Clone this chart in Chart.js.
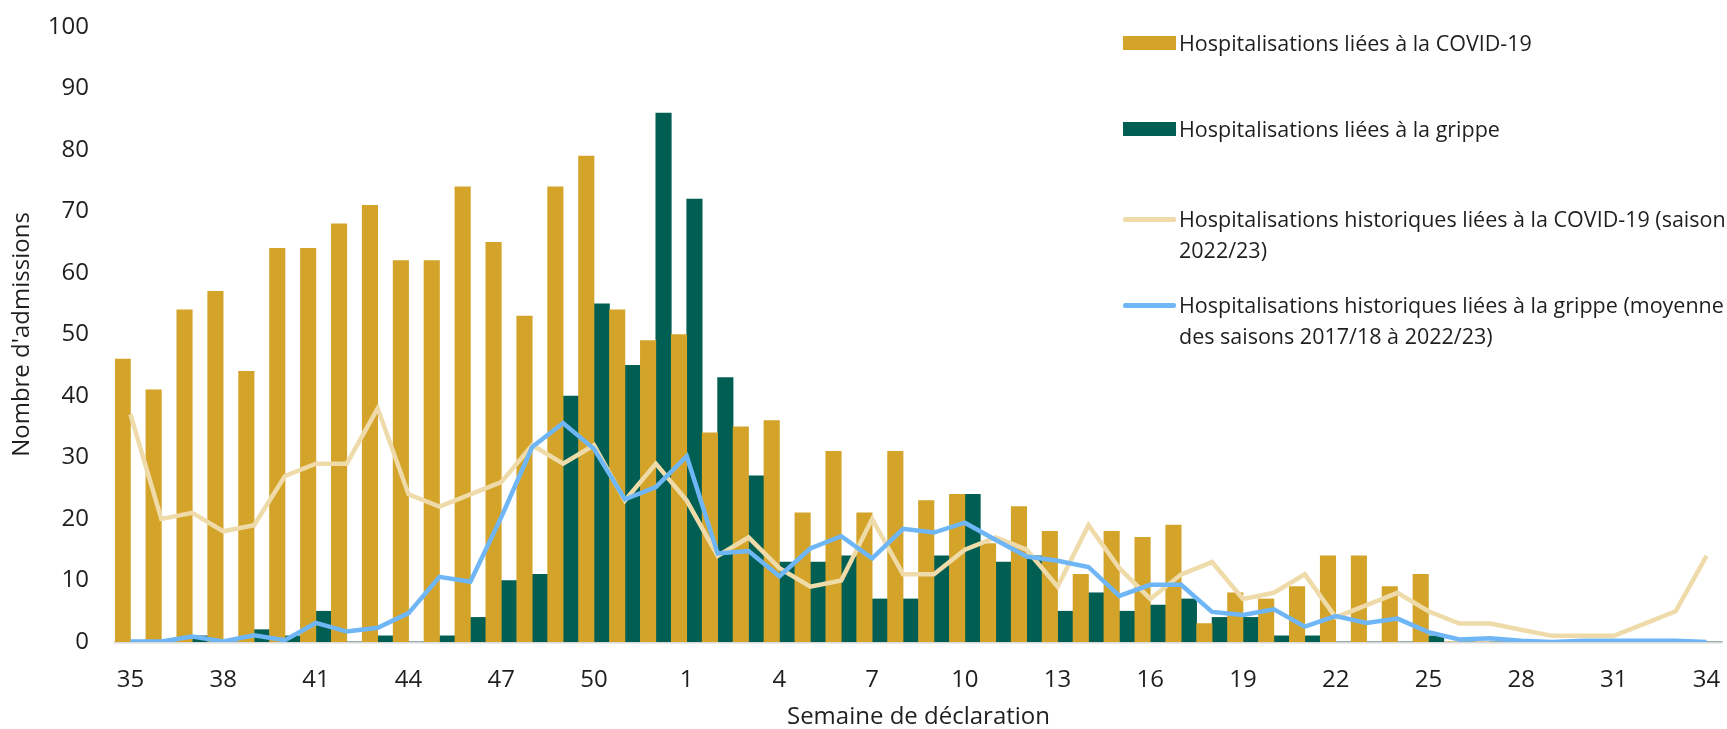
<!DOCTYPE html>
<html>
<head>
<meta charset="utf-8">
<script src="https://cdn.jsdelivr.net/npm/chart.js@4/dist/chart.umd.min.js"></script>
<style>
  html, body { margin: 0; padding: 0; background: #ffffff; }
  #wrap { position: relative; width: 1727px; height: 729px; overflow: hidden; }
  #chart { position: absolute; left: 0; top: 0; }
  #legend { position: absolute; left: 1123px; top: 0; width: 604px; height: 360px;
            font-family: 'Open Sans', sans-serif; font-size: 21.5px; color: #1f1f1f; }
  .item { position: absolute; left: 0; }
  .sw { position: absolute; left: 0; width: 53px; }
  .txt { position: absolute; left: 56px; top: 0; line-height: 31px; white-space: nowrap; }
</style>
</head>
<body>
<div id="wrap">
  <canvas id="chart" width="1727" height="729"></canvas>
  <div id="legend"></div>
</div>
<script>
// ---- Data ----
const weeks = ['35','36','37','38','39','40','41','42','43','44','45','46','47','48','49','50','51','52',
  '1','2','3','4','5','6','7','8','9','10','11','12','13','14','15','16','17','18','19','20',
  '21','22','23','24','25','26','27','28','29','30','31','32','33','34'];

const covidAdmissions = [46,41,54,57,44,64,64,68,71,62,62,74,65,53,74,79,54,49,
  50,34,35,36,21,31,21,31,23,24,16,22,18,11,18,17,19,3,8,7,9,14,14,9,11,0,0,0,0,0,0,0,0,0];

const fluAdmissions = [0,0,1,0,2,1,5,0,1,0,1,4,10,11,40,55,45,86,
  72,43,27,13,13,14,7,7,14,24,13,14,5,8,5,6,7,4,4,1,1,0,0,0,1,0,0,0,0,0,0,0,0,0];

const covidHistoric = [37,20,21,18,19,27,29,29,38,24,22,24,26,32,29,32,23,29,
  23,14,17,12,9,10,20,11,11,15,17,15,9,19,12,7,11,13,7,8,11,4,6,8,5,3,3,2,1,1,1,3,5,14];

const fluHistoric = [0.1,0.1,0.9,0.1,1.1,0.3,3.1,1.7,2.3,4.7,10.6,9.8,20.3,31.7,35.6,31.4,23.2,25.2,
  30.2,14.4,14.8,10.7,15.2,17.2,13.6,18.4,17.8,19.4,16.6,13.9,13.2,12.2,7.5,9.3,9.3,4.9,4.4,5.3,
  2.5,4.2,3.1,3.8,1.6,0.4,0.6,0.2,0,0.2,0.2,0.2,0.2,0];

const seriesLabels = [
  ['Hospitalisations liées à la COVID-19'],
  ['Hospitalisations liées à la grippe'],
  ['Hospitalisations historiques liées à la COVID-19 (saison', '2022/23)'],
  ['Hospitalisations historiques liées à la grippe (moyenne', 'des saisons 2017/18 à 2022/23)']
];
const xTitle = 'Semaine de déclaration';
const yTitle = "Nombre d'admissions";

const ORANGE = '#D4A32A';
const GREEN = '#005F52';
const BEIGE = '#EEDBA9';
const BLUE = '#6FB6F6';
const TEXT = '#1f1f1f';

function draw() {
  Chart.defaults.font.family = "'Open Sans', sans-serif";
  const ctx = document.getElementById('chart').getContext('2d');
  new Chart(ctx, {
    type: 'bar',
    data: {
      labels: weeks,
      datasets: [
        { type: 'bar', label: seriesLabels[0].join(' '), data: covidAdmissions, backgroundColor: ORANGE, order: 3 },
        { type: 'bar', label: seriesLabels[1].join(' '), data: fluAdmissions, backgroundColor: GREEN, order: 3 },
        { type: 'line', label: seriesLabels[2].join(' '), data: covidHistoric, borderColor: BEIGE, backgroundColor: BEIGE,
          borderWidth: 4.5, pointRadius: 0, tension: 0, order: 1 },
        { type: 'line', label: seriesLabels[3].join(' '), data: fluHistoric, borderColor: BLUE, backgroundColor: BLUE,
          borderWidth: 4.5, pointRadius: 0, tension: 0, order: 0 }
      ]
    },
    options: {
      responsive: false,
      animation: false,
      layout: { padding: { top: 27, right: 5, left: 0, bottom: 0 } },
      plugins: { legend: { display: false }, tooltip: { enabled: false } },
      datasets: { bar: { categoryPercentage: 1.0, barPercentage: 1.0 } },
      scales: {
        x: {
          grid: { display: false, drawTicks: false },
          border: { display: true, color: '#d9d9d9', width: 2.5 },
          ticks: {
            autoSkip: false, maxRotation: 0, minRotation: 0, padding: 24,
            color: TEXT, font: { size: 24 },
            callback: function (v, i) { return i % 3 === 0 ? weeks[i] : ''; }
          },
          title: { display: true, text: xTitle, color: TEXT, font: { size: 24, lineHeight: 1 }, padding: { top: 0, bottom: 0 } },
          afterFit: function (s) { s.height = 87; s.paddingLeft = 0; s.paddingRight = 0; }
        },
        y: {
          min: 0, max: 100,
          grid: { display: false, drawTicks: false },
          border: { display: false },
          ticks: { stepSize: 10, padding: 26, color: TEXT, font: { size: 24 } },
          title: { display: true, text: yTitle, color: TEXT, font: { size: 24 }, padding: { top: 8, bottom: 0 } },
          afterFit: function (s) { s.width = 115; s.paddingTop = 0; s.paddingBottom = 0; }
        }
      }
    }
  });

  // HTML legend (wrapped labels)
  const legend = document.getElementById('legend');
  const swatches = [
    { kind: 'box', color: ORANGE }, { kind: 'box', color: GREEN },
    { kind: 'line', color: BEIGE }, { kind: 'line', color: BLUE }
  ];
  const rowCenters = [42, 128, 218, 304];
  seriesLabels.forEach(function (lines, i) {
    const item = document.createElement('div');
    item.className = 'item';
    item.style.top = (rowCenters[i] - 15.5) + 'px';
    const sw = document.createElement('div');
    sw.className = 'sw';
    if (swatches[i].kind === 'box') {
      sw.style.height = '14px'; sw.style.top = (15.5 - 7 + 1) + 'px';
      sw.style.background = swatches[i].color;
    } else {
      sw.style.height = '4.5px'; sw.style.top = (15.5 - 2 + 1) + 'px';
      sw.style.background = swatches[i].color; sw.style.borderRadius = '2px';
    }
    const txt = document.createElement('div');
    txt.className = 'txt';
    txt.innerHTML = lines.map(function (l) { return l.replace(/&/g, '&amp;').replace(/</g, '&lt;'); }).join('<br>');
    item.appendChild(sw); item.appendChild(txt);
    legend.appendChild(item);
  });
}

if (document.fonts && document.fonts.load) {
  Promise.all([document.fonts.load("24px 'Open Sans'"), document.fonts.load("21.5px 'Open Sans'")])
    .then(draw, draw);
} else { draw(); }
</script>
</body>
</html>
